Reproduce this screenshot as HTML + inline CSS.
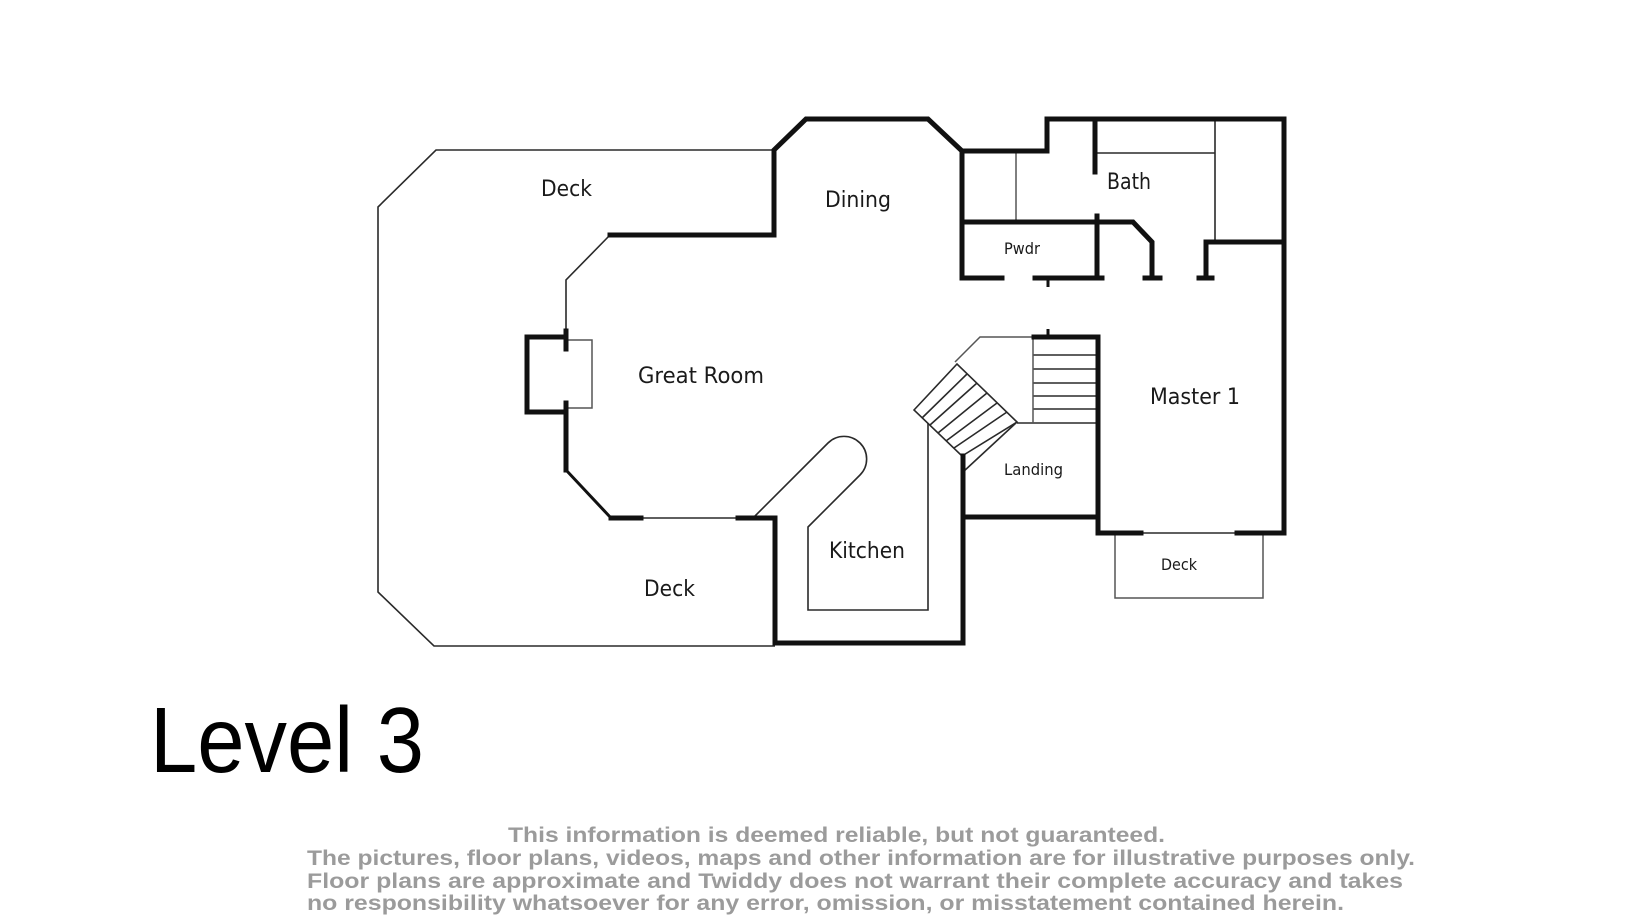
<!DOCTYPE html>
<html>
<head>
<meta charset="utf-8">
<style>
  html,body{margin:0;padding:0;background:#fff;}
  body{width:1632px;height:916px;overflow:hidden;}
  svg{display:block;}
</style>
</head>
<body>
<svg width="1632" height="916" viewBox="0 0 1632 916" xmlns="http://www.w3.org/2000/svg">
  <rect x="0" y="0" width="1632" height="916" fill="#fff"/>

  <!-- thin / outline lines -->
  <g fill="none" stroke="#2a2a2a" stroke-width="1.6" stroke-linejoin="miter">
    <path d="M774,150 L436,150 L378,207 L378,592 L434,646 L775,646"/>
    <path d="M610,235 L566,280 L566,337"/>
    <path d="M642,518 L737,518"/>
    <path d="M753,518 L828,443 A22 22 0 0 1 860,475 L808,527 L808,610 L928,610 L928,423"/>
    <path d="M1095,153 L1215,153"/>
    <path d="M1215,119 L1215,242"/>
    <path d="M1033,355 L1097,355 M1033,369 L1097,369 M1033,383 L1097,383 M1033,396 L1097,396 M1033,409 L1097,409 M1017,423 L1097,423"/>
    <path d="M914,410 L957,364 L1017,422 L962,456 Z"/>
    <path d="M922,418 L967,374 M930,425 L977,383 M938,433 L987,393 M946,441 L997,403 M954,448 L1007,412"/>
    <path d="M963,472 L1017,422"/>
    <path d="M1141,533 L1237,533"/>
  </g>

  <!-- dashed-grey lines -->
  <g fill="none" stroke="#555" stroke-width="1.5">
    <path d="M566,340 L592,340 L592,408 L566,408"/>
    <path d="M1016,151 L1016,222"/>
    <path d="M1033,337 L980,337 L955,362"/>
    <path d="M1033,337 L1033,423"/>
    <path d="M1115,533 L1115,598 L1263,598 L1263,533"/>
  </g>

  <!-- thick walls -->
  <g fill="none" stroke="#111" stroke-width="5" stroke-linejoin="miter" stroke-linecap="square">
    <path d="M774,235 L774,150 L806,119 L928,119 L962,151 L1047,151 L1047,119 L1284,119 L1284,533 L1237,533"/>
    <path d="M774,235 L610,235"/>
    <path d="M962,151 L962,278 L1002,278"/>
    <path d="M1035,278 L1102,278"/>
    <path d="M1097,278 L1097,216"/>
    <path d="M1095,119 L1095,172"/>
    <path d="M962,222 L1133,222 L1152,242 L1152,278"/>
    <path d="M1145,278 L1160,278"/>
    <path d="M1284,242 L1206,242 L1206,278"/>
    <path d="M1199,278 L1212,278"/>
    <path d="M566,337 L527,337 L527,412 L566,412 L566,470"/>
    <path d="M566,331 L566,349"/>
    <path d="M566,403 L566,412"/>
    <path d="M611,518 L641,518"/>
    <path d="M738,518 L775,518 L775,643 L963,643 L963,456"/>
    <path d="M963,517 L1097,517"/>
    <path d="M1034,337 L1098,337 L1098,533 L1141,533"/>
  </g>
  <g fill="none" stroke="#111" stroke-width="3">
    <path d="M566,470 L611,518"/>
    <path d="M1048,278 L1048,287"/>
    <path d="M1048,329 L1048,337"/>
  </g>

  <!-- room labels -->
  <g font-family="'DejaVu Sans', 'Liberation Sans', sans-serif" fill="#1a1a1a">
    <text x="541" y="196" font-size="22" textLength="51" lengthAdjust="spacingAndGlyphs">Deck</text>
    <text x="825" y="207" font-size="22" textLength="66" lengthAdjust="spacingAndGlyphs">Dining</text>
    <text x="638" y="383" font-size="22" textLength="126" lengthAdjust="spacingAndGlyphs">Great Room</text>
    <text x="829" y="558" font-size="22" textLength="76" lengthAdjust="spacingAndGlyphs">Kitchen</text>
    <text x="644" y="596" font-size="22" textLength="51" lengthAdjust="spacingAndGlyphs">Deck</text>
    <text x="1107" y="189" font-size="22" textLength="44" lengthAdjust="spacingAndGlyphs">Bath</text>
    <text x="1150" y="404" font-size="22" textLength="90" lengthAdjust="spacingAndGlyphs">Master 1</text>
    <text x="1004" y="254" font-size="16" textLength="36" lengthAdjust="spacingAndGlyphs">Pwdr</text>
    <text x="1004" y="475" font-size="16" textLength="59" lengthAdjust="spacingAndGlyphs">Landing</text>
    <text x="1161" y="570" font-size="16" textLength="36" lengthAdjust="spacingAndGlyphs">Deck</text>
  </g>

  <!-- Level 3 -->
  <text x="150" y="772" font-family="'Liberation Sans', sans-serif" font-size="93" fill="#000" textLength="274" lengthAdjust="spacingAndGlyphs">Level 3</text>

  <!-- footer disclaimer -->
  <g font-family="'Liberation Sans', sans-serif" font-weight="bold" font-size="21.5" fill="#9b9b9b">
    <text x="508" y="842" textLength="657" lengthAdjust="spacingAndGlyphs">This information is deemed reliable, but not guaranteed.</text>
    <text x="307" y="865" textLength="1108" lengthAdjust="spacingAndGlyphs">The pictures, floor plans, videos, maps and other information are for illustrative purposes only.</text>
    <text x="307" y="888" textLength="1096" lengthAdjust="spacingAndGlyphs">Floor plans are approximate and Twiddy does not warrant their complete accuracy and takes</text>
    <text x="307" y="910" textLength="1037" lengthAdjust="spacingAndGlyphs">no responsibility whatsoever for any error, omission, or misstatement contained herein.</text>
  </g>
</svg>
</body>
</html>
